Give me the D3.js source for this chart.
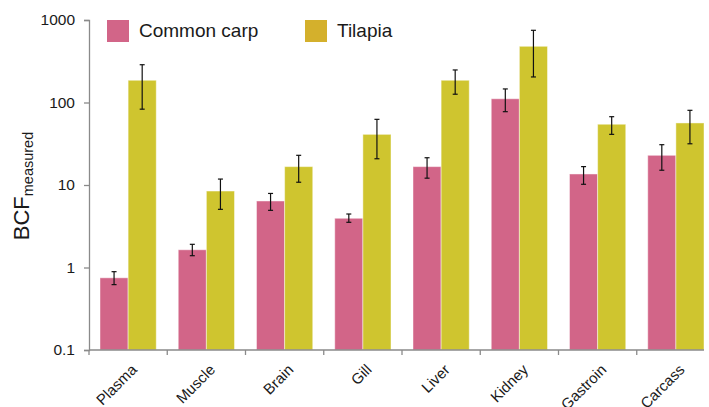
<!DOCTYPE html>
<html>
<head>
<meta charset="utf-8">
<script src="https://cdn.jsdelivr.net/npm/d3@7"></script>
<style>
  body { margin: 0; background: #fff; }
  svg { display: block; }
</style>
</head>
<body>
<div id="chart"></div>
<script>
// Data
const tissues = ["Plasma", "Muscle", "Brain", "Gill", "Liver", "Kidney", "Gastroin", "Carcass"];
const seriesNames = ["Common carp", "Tilapia"];
const carpValues = [0.75, 1.64, 6.4, 3.95, 16.7, 111, 13.6, 22.9];
const carpLow    = [0.62, 1.39, 4.93, 3.53, 12.1, 77.4, 10.2, 15.1];
const carpHigh   = [0.89, 1.91, 7.9, 4.45, 21.4, 146, 16.7, 30.8];
const tilapiaValues = [186, 8.45, 16.7, 41.1, 186, 480, 54.5, 56.5];
const tilapiaLow    = [83, 5.07, 10.8, 20.8, 126, 204, 41.1, 31.6];
const tilapiaHigh   = [287, 11.8, 22.9, 62.5, 248, 750, 67.3, 80.4];
const yTicks = [0.1, 1, 10, 100, 1000];

const width = 709, height = 407;
const barColors = ["#d26588", "#cfc52f"];
const legendColors = ["#d26588", "#d4b02c"];
const textColor = "#1a1a1a";
const axisColor = "#8a8a8a";
const fontFamily = "Liberation Sans, Arial, sans-serif";

const svg = d3.select("#chart").append("svg")
  .attr("width", width)
  .attr("height", height);

const x = d3.scaleBand()
  .domain(tissues)
  .range([89, 715])
  .paddingInner(0)
  .paddingOuter(0);

const inner = d3.scaleBand()
  .domain(seriesNames)
  .range([11, x.bandwidth() - 11]);

const y = d3.scaleLog()
  .domain([0.1, 1000])
  .range([350, 20]);

const rows = tissues.map((t, i) => ({
  tissue: t,
  bars: [
    { s: seriesNames[0], v: carpValues[i], lo: carpLow[i], hi: carpHigh[i], c: barColors[0] },
    { s: seriesNames[1], v: tilapiaValues[i], lo: tilapiaLow[i], hi: tilapiaHigh[i], c: barColors[1] }
  ]
}));

// bars
const groups = svg.selectAll("g.tissue")
  .data(rows)
  .enter().append("g")
  .attr("class", "tissue")
  .attr("transform", d => `translate(${x(d.tissue)},0)`);

groups.selectAll("rect")
  .data(d => d.bars)
  .enter().append("rect")
  .attr("x", d => inner(d.s))
  .attr("y", d => y(d.v))
  .attr("width", inner.bandwidth())
  .attr("height", d => y(0.1) - y(d.v))
  .attr("fill", d => d.c)
  .attr("stroke", "#ffffff")
  .attr("stroke-opacity", 0.45)
  .attr("stroke-width", 1);

// error bars
const err = groups.selectAll("g.err")
  .data(d => d.bars)
  .enter().append("g")
  .attr("class", "err")
  .attr("transform", d => `translate(${inner(d.s) + inner.bandwidth() / 2},0)`)
  .attr("stroke", "#111")
  .attr("stroke-width", 1.2);

err.append("line")
  .attr("y1", d => y(d.lo)).attr("y2", d => y(d.hi));
err.append("line")
  .attr("x1", -2.5).attr("x2", 2.5)
  .attr("y1", d => y(d.hi)).attr("y2", d => y(d.hi));
err.append("line")
  .attr("x1", -2.5).attr("x2", 2.5)
  .attr("y1", d => y(d.lo)).attr("y2", d => y(d.lo));

// y axis
const yAxis = d3.axisLeft(y)
  .tickValues(yTicks)
  .tickFormat(d => String(d))
  .tickSize(5)
  .tickPadding(9);

const yg = svg.append("g")
  .attr("transform", "translate(89,0)")
  .call(yAxis);
yg.select(".domain").attr("stroke", axisColor).attr("stroke-width", 1.3);
yg.selectAll(".tick line").attr("stroke", axisColor).attr("stroke-width", 1.3);
yg.selectAll("text")
  .attr("fill", textColor)
  .style("font-family", fontFamily)
  .style("font-size", "15.5px");

// x axis
const lastEnd = x(tissues[tissues.length - 1]) + inner(seriesNames[1]) + inner.bandwidth();
const xg = svg.append("g").attr("transform", "translate(0,350)");
xg.append("line")
  .attr("x1", 89).attr("x2", lastEnd)
  .attr("stroke", axisColor).attr("stroke-width", 1.3);
xg.selectAll("line.tick")
  .data(tissues)
  .enter().append("line")
  .attr("class", "tick")
  .attr("x1", d => x(d)).attr("x2", d => x(d))
  .attr("y1", 0).attr("y2", 5)
  .attr("stroke", axisColor).attr("stroke-width", 1.3);
xg.selectAll("text")
  .data(tissues)
  .enter().append("text")
  .attr("transform", d => `translate(${x(d) + x.bandwidth() / 2 + 6},${17}) rotate(-45)`)
  .attr("text-anchor", "end")
  .attr("dy", "0.35em")
  .attr("fill", textColor)
  .style("font-family", fontFamily)
  .style("font-size", "15px")
  .text(d => d);

// y label
const yl = svg.append("text")
  .attr("transform", "translate(29,186) rotate(-90)")
  .attr("text-anchor", "middle")
  .attr("fill", textColor)
  .style("font-family", fontFamily)
  .style("font-size", "22px");
yl.append("tspan").text("BCF");
yl.append("tspan")
  .attr("dy", "0.25em")
  .style("font-size", "14.5px")
  .text("measured");

// legend
const legend = svg.append("g");
const legendX = [107, 305];
seriesNames.forEach((s, i) => {
  legend.append("rect")
    .attr("x", legendX[i]).attr("y", 20)
    .attr("width", 22).attr("height", 22)
    .attr("fill", legendColors[i]);
  legend.append("text")
    .attr("x", legendX[i] + 32).attr("y", 37)
    .attr("fill", textColor)
    .style("font-family", fontFamily)
    .style("font-size", "19px")
    .text(s);
});
</script>
</body>
</html>
